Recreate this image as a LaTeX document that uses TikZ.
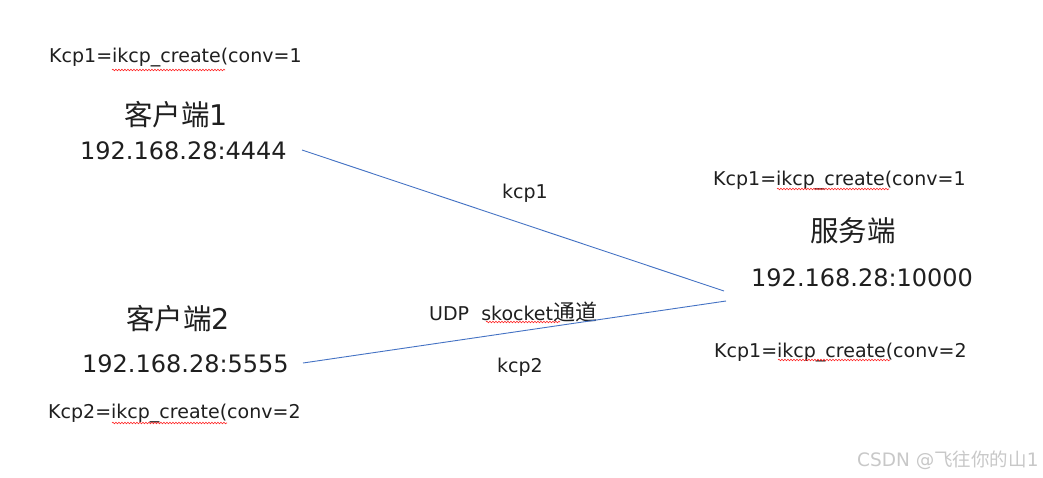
\documentclass[tikz,border=0pt]{standalone}
\usepackage{fontspec}
\setmainfont{DejaVu Sans}
\newfontfamily\cjk{Noto Sans CJK SC}
\usetikzlibrary{decorations.pathmorphing}
\definecolor{linkblue}{RGB}{68,114,196}
\definecolor{wmgray}{RGB}{200,200,200}
\tikzset{
  lbl/.style={inner sep=0pt, anchor=west, text=black!88},
  small/.style={lbl, font=\fontsize{19}{22}\selectfont},
  big/.style={lbl, font=\fontsize{24}{30}\selectfont},
  cjkbig/.style={lbl, font=\fontsize{28.5}{32}\selectfont},
  link/.style={draw=linkblue, line width=0.9pt},
  spell/.style={draw=red!85, line width=0.6pt, decorate, decoration={snake, amplitude=0.8pt, segment length=3pt}},
}
\begin{document}
\begin{tikzpicture}[x=1pt,y=-1pt]
\useasboundingbox (0,0) rectangle (1043,477);
\fill[white] (0,0) rectangle (1043,477);
% client 1
\node[small] (k1) at (49,58) {Kcp1=ikcp\_create(conv=1};
\node[cjkbig] (c1name) at (124,115) {{\cjk 客户端}1};
\node[big] (c1ip) at (80,151) {192.168.28:4444};
% client 2
\node[cjkbig] (c2name) at (126,319) {{\cjk 客户端}2};
\node[big] (c2ip) at (82,364) {192.168.28:5555};
\node[small] (k2) at (48,414) {Kcp2=ikcp\_create(conv=2};
% server
\node[small] (s1) at (713,181) {Kcp1=ikcp\_create(conv=1};
\node[cjkbig] (sname) at (810,231) {\cjk 服务端};
\node[big] (sip) at (751,278) {192.168.28:10000};
\node[small] (s2) at (714,353) {Kcp1=ikcp\_create(conv=2};
% channel labels
\node[small] (l1) at (502,193) {kcp1};
\node[small] (udp) at (429,312) {UDP\ \ skocket{\cjk\fontsize{22}{24}\selectfont 通道}};
\node[small] (l2) at (497,367) {kcp2};
% connectors
\coordinate (a1) at (302,150);
\coordinate (b1) at (724,291);
\coordinate (a2) at (303,363);
\coordinate (b2) at (726,301);
\draw[link] (a1) -- (b1);
\draw[link] (a2) -- (b2);
% spell-check underlines
\draw[spell] (112,70) -- (225,70);
\draw[spell] (112,423) -- (227,423);
\draw[spell] (777,189) -- (889,189);
\draw[spell] (778,360) -- (890,360);
\draw[spell] (486,322) -- (560,322);
% watermark
\node[lbl, text=wmgray, font=\fontsize{18.5}{20}\selectfont] (wm) at (857,460) {CSDN @{\cjk 飞往你的山}1};
\end{tikzpicture}
\end{document}
